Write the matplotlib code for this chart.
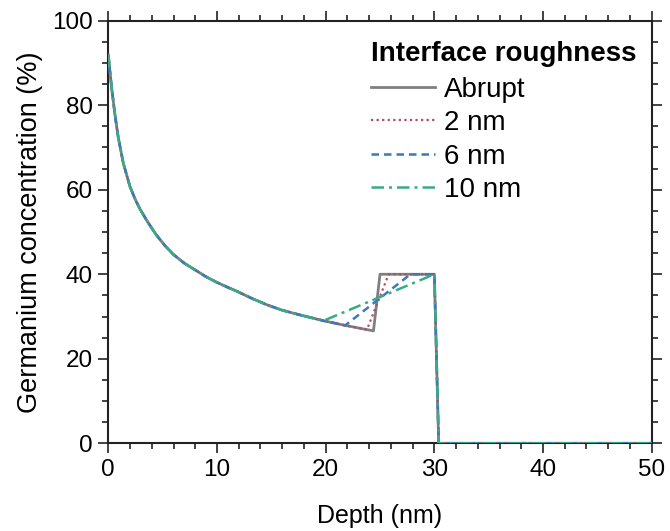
import matplotlib
matplotlib.use("Agg")
import matplotlib.pyplot as plt
from matplotlib.ticker import MultipleLocator

plt.rcParams['font.family'] = ['Liberation Sans', 'DejaVu Sans']

# decaying part of the profile
curve_x = [0.0, 0.16, 0.31, 0.62, 0.92, 1.38, 2.0, 2.5, 2.92, 3.5, 4.0, 4.45,
           5.2, 5.98, 7.0, 8.13, 9.0, 9.97, 11.0, 11.81, 13.2, 14.57, 16.0,
           17.6, 19.8, 21.8, 23.8, 24.4]
curve_y = [91.9, 87.8, 84.0, 77.6, 72.3, 66.3, 60.7, 57.6, 55.4, 52.9, 50.9, 49.2,
           46.8, 44.7, 42.6, 40.8, 39.4, 38.1, 36.9, 36.0, 34.3, 32.8, 31.5,
           30.4, 29.0, 27.9, 26.9, 26.6]

# abrupt interface
abrupt_x = curve_x + [25.0, 30.0, 30.4, 50.0]
abrupt_y = curve_y + [40.0, 40.0, 0.0, 0.0]

# 2 nm
r2_x = curve_x[:-1] + [25.8, 30.0, 30.4, 50.0]
r2_y = curve_y[:-1] + [40.0, 40.0, 0.0, 0.0]

# 6 nm
r6_x = curve_x[:-2] + [27.8, 30.0, 30.4, 50.0]
r6_y = curve_y[:-2] + [40.0, 40.0, 0.0, 0.0]

# 10 nm
r10_x = curve_x[:-3] + [30.0, 30.4, 50.0]
r10_y = curve_y[:-3] + [40.0, 0.0, 0.0]

fig = plt.figure(figsize=(6.7, 5.31), dpi=100)
ax = fig.add_axes([108.3 / 670, 1 - 443.3 / 531, 543.4 / 670, 422.6 / 531])

ax.plot(abrupt_x, abrupt_y, color='#808080', lw=2.0, ls='-', label='Abrupt', zorder=3)
ax.plot(r2_x, r2_y, color='#a8506a', lw=1.6, ls=(0, (1, 1.5)), label='2 nm', zorder=3)
ax.plot(r6_x, r6_y, color='#3a78bf', lw=1.8, ls=(0, (3, 2)), label='6 nm', zorder=3)
ax.plot(r10_x, r10_y, color='#3aaa84', lw=1.8, ls=(0, (5, 2, 1.2, 2)), label='10 nm', zorder=3)

ax.set_xlim(0, 50)
ax.set_ylim(0, 100)
ax.xaxis.set_major_locator(MultipleLocator(10))
ax.xaxis.set_minor_locator(MultipleLocator(2))
ax.yaxis.set_major_locator(MultipleLocator(20))
ax.yaxis.set_minor_locator(MultipleLocator(5))
ax.tick_params(which='both', direction='out', top=True, right=True,
               labeltop=False, labelright=False, width=1.2, color='#222222')
ax.tick_params(which='major', length=7, labelsize=17.5, pad=4)
ax.tick_params(which='minor', length=4)
for s in ax.spines.values():
    s.set_linewidth(1.5)
    s.set_color('#222222')
    s.set_zorder(2)

ax.set_xlabel('Depth (nm)', fontsize=18, labelpad=17)
ax.set_ylabel('Germanium concentration (%)', fontsize=19.5, labelpad=7)

leg = ax.legend(loc='upper left', bbox_to_anchor=(0.484, 0.952), frameon=False,
                title='Interface roughness', fontsize=20, handlelength=2.3,
                handletextpad=0.3, labelspacing=0.27, borderaxespad=0.0,
                borderpad=0.0)
leg.get_title().set_fontweight('bold')
leg.get_title().set_fontsize(20)
leg._legend_box.align = 'left'
leg._legend_box.sep = 7

fig.savefig('out.png', dpi=100)
